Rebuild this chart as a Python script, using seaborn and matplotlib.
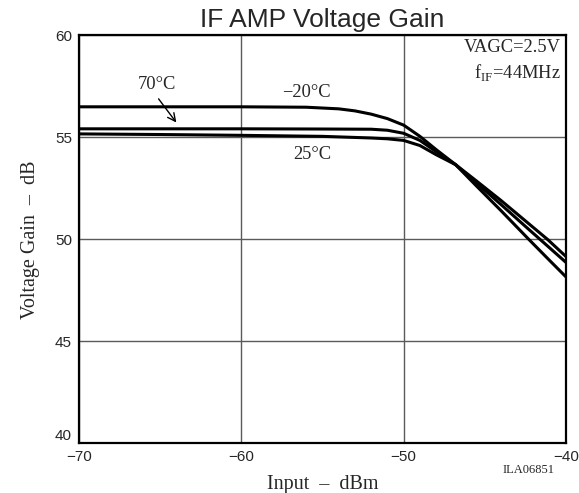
import matplotlib
matplotlib.use("Agg")
import matplotlib.pyplot as plt
import seaborn as sns
import pandas as pd

# Input level (dBm) and gain (dB) for each temperature
x_m20 = [-70, -65, -60, -56, -54, -53, -52, -51, -50, -49, -48, -46.8, -45.5, -44, -42.3, -41, -40]
g_m20 = [56.5, 56.5, 56.5, 56.48, 56.4, 56.3, 56.14, 55.92, 55.6, 55.05, 54.4, 53.66, 52.6, 51.4, 50.0, 48.95, 48.15]

x_70 = [-70, -65, -60, -55, -52, -51, -50, -49, -48, -46.8, -45.5, -44, -42.5, -41, -40]
g_70 = [55.42, 55.42, 55.42, 55.41, 55.4, 55.35, 55.2, 54.85, 54.3, 53.66, 52.75, 51.7, 50.63, 49.57, 48.86]

x_25 = [-70, -65, -60, -55, -52, -51, -50, -49, -48, -46.8, -45.5, -44, -42.5, -41.15, -40]
g_25 = [55.17, 55.14, 55.1, 55.05, 54.97, 54.93, 54.85, 54.6, 54.15, 53.66, 52.85, 51.9, 50.9, 50.0, 49.15]

xticks = [-70, -60, -50, -40]
yticks = [40, 45, 50, 55, 60]

df = pd.concat([
    pd.DataFrame({"input": x_m20, "gain": g_m20, "temp": "-20C"}),
    pd.DataFrame({"input": x_70, "gain": g_70, "temp": "70C"}),
    pd.DataFrame({"input": x_25, "gain": g_25, "temp": "25C"}),
])

sns.set_style("white")
serif = "Liberation Serif"
sans = "Liberation Sans"

fig = plt.figure(figsize=(5.79, 4.93), dpi=100)
ax = fig.add_axes([0.1364, 0.1014, 0.8412, 0.8266])

sns.lineplot(data=df, x="input", y="gain", units="temp", estimator=None,
             color="black", linewidth=2.2, sort=False, ax=ax)

ax.set_xlim(-70, -40)
ax.set_ylim(40, 60)
ax.set_xticks(xticks)
ax.set_yticks(yticks)
ax.set_xticklabels(["\u2212" + str(abs(v)) for v in xticks], family=sans, fontsize=11)
ylabels = ax.set_yticklabels([str(v) for v in yticks], family=sans, fontsize=11)
ylabels[0].set_va("bottom")
ax.tick_params(length=0, pad=5)
ax.grid(True, color="#5a5a5a", linewidth=1.0)
ax.set_axisbelow(True)
for s in ax.spines.values():
    s.set_color("black")
    s.set_linewidth(1.6)

ax.set_xlabel("Input  \u2013  dBm", family=serif, fontsize=14.5, labelpad=8)
ax.set_ylabel("Voltage Gain  \u2013  dB", family=serif, fontsize=14.5, labelpad=11)
ax.set_title("IF AMP Voltage Gain", family=sans, fontsize=19, pad=6)

ax.text(-40.35, 59.4, "VAGC=2.5V", family=serif, fontsize=13.3, ha="right", va="center")
ax.text(-40.35, 58.2, r"f$_{\mathregular{IF}}$=44MHz", family=serif, fontsize=13.3,
        ha="right", va="center")
ax.text(-56.0, 57.18, "\u221220\u00b0C", family=serif, fontsize=13.3, ha="center", va="center")
ax.text(-55.6, 54.15, "25\u00b0C", family=serif, fontsize=13.3, ha="center", va="center")
ax.text(-65.2, 57.6, "70\u00b0C", family=serif, fontsize=13.3, ha="center", va="center")
ax.annotate("", xy=(-63.9, 55.62), xytext=(-65.2, 57.0),
            arrowprops=dict(arrowstyle="->", color="black", lw=1.0, mutation_scale=14))

fig.text(0.958, 0.046, "ILA06851", family=serif, fontsize=9, ha="right", va="center")

fig.savefig("out.png", dpi=100)
